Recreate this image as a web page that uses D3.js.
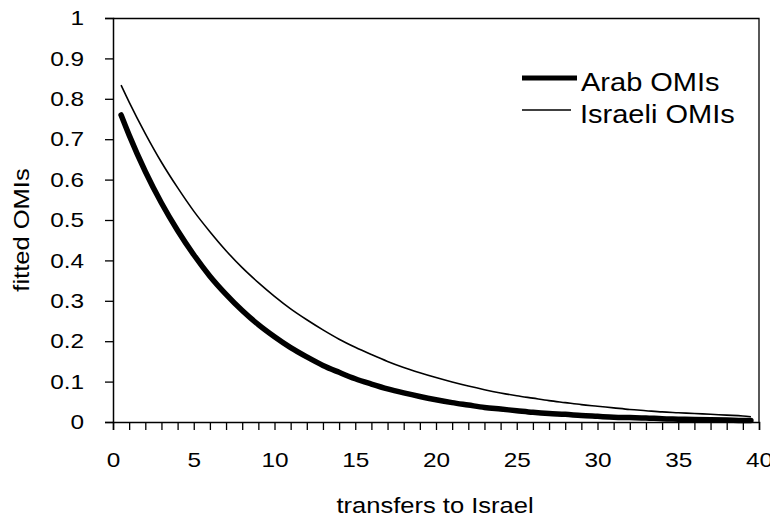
<!DOCTYPE html>
<html>
<head>
<meta charset="utf-8">
<script src="https://cdn.jsdelivr.net/npm/d3@7"></script>
<style>
  body { margin: 0; background: #fff; }
  text { font-family: "Liberation Sans", Arial, sans-serif; fill: #000; }
</style>
</head>
<body>
<div id="chart"></div>
<script>
// values
const transfers = [0.5, 1, 2, 3, 4, 5, 6, 7, 8, 9, 10, 11, 12, 13, 14, 15, 16, 17, 18, 19, 20,
  21, 22, 23, 24, 25, 26, 27, 28, 29, 30, 31, 32, 33, 34, 35, 36, 37, 38, 39, 39.5];
const arabOMIs = [0.760, 0.710, 0.620, 0.542, 0.474, 0.414, 0.361, 0.316, 0.276, 0.241, 0.211,
  0.184, 0.161, 0.140, 0.123, 0.107, 0.094, 0.082, 0.072, 0.063, 0.055,
  0.048, 0.042, 0.036, 0.032, 0.028, 0.024, 0.021, 0.019, 0.016, 0.014,
  0.012, 0.011, 0.010, 0.008, 0.007, 0.006, 0.0055, 0.005, 0.004, 0.004];
const israeliOMIs = [0.834, 0.792, 0.714, 0.643, 0.580, 0.522, 0.471, 0.424, 0.382, 0.345, 0.311,
  0.280, 0.253, 0.228, 0.205, 0.185, 0.167, 0.150, 0.135, 0.122, 0.110,
  0.099, 0.089, 0.080, 0.072, 0.065, 0.059, 0.053, 0.048, 0.043, 0.039,
  0.035, 0.031, 0.028, 0.025, 0.023, 0.021, 0.019, 0.017, 0.015, 0.013];
const xTickLabels = [0, 5, 10, 15, 20, 25, 30, 35, 40];
const yTickLabels = [0, 0.1, 0.2, 0.3, 0.4, 0.5, 0.6, 0.7, 0.8, 0.9, 1];
const seriesNames = ["Arab OMIs", "Israeli OMIs"];

const svg = d3
  .select("#chart")
  .append("svg")
  .attr("height", 518)
  .attr("width", 770);

const margin = { top: 18, bottom: 96, left: 113, right: 11 };
const width = +svg.attr("width") - margin.left - margin.right;
const height = +svg.attr("height") - margin.top - margin.bottom;
const chart = svg.append("g").attr("transform", `translate(${margin.left},${margin.top})`);

const xScale = d3.scaleLinear().domain([0, 40]).range([0, width]);
const yScale = d3.scaleLinear().domain([0, 1]).range([height, 0]);

// frame (top and right)
chart.append("path")
  .attr("d", `M0,0.5H${width}V${height}`)
  .attr("fill", "none")
  .attr("stroke", "#000")
  .attr("stroke-width", 1.3);

// x axis: ticks every 1, labels every 5
const xAxis = chart.append("g")
  .attr("class", "x-axis")
  .attr("transform", `translate(0,${height})`)
  .call(d3.axisBottom(xScale)
    .tickValues(d3.range(0, 41))
    .tickSize(8)
    .tickFormat(d => xTickLabels.includes(d) ? d : ""));

const yAxis = chart.append("g")
  .attr("class", "y-axis")
  .call(d3.axisLeft(yScale)
    .tickValues(yTickLabels)
    .tickSize(8)
    .tickPadding(21)
    .tickFormat(d => d3.format("")(+d.toFixed(1))));

[xAxis, yAxis].forEach(a => {
  a.select(".domain").attr("stroke-width", 1.5);
  a.selectAll(".tick line").attr("stroke-width", 1.3);
  a.selectAll("text").style("font-size", "21px");
});
xAxis.selectAll("text").attr("y", 45).attr("dy", null);

const line = vals => d3.line()
  .x((d, i) => xScale(transfers[i]))
  .y(d => yScale(d))
  .curve(d3.curveMonotoneX)(vals);

chart.append("path")
  .attr("d", line(israeliOMIs))
  .attr("fill", "none")
  .attr("stroke", "#000")
  .attr("stroke-width", 1.6);

chart.append("path")
  .attr("d", line(arabOMIs))
  .attr("fill", "none")
  .attr("stroke", "#000")
  .attr("stroke-width", 5.5)
  .attr("stroke-linecap", "round");

// legend
const legend = svg.append("g").attr("transform", "translate(522,78)");
seriesNames.forEach((name, i) => {
  const g = legend.append("g").attr("transform", `translate(0,${i * 32})`);
  g.append("line")
    .attr("x1", 0).attr("x2", i === 0 ? 55 : 49)
    .attr("stroke", "#000")
    .attr("stroke-width", i === 0 ? 5 : 1.3);
  g.append("text")
    .attr("x", i === 0 ? 59 : 58)
    .attr("y", 13)
    .style("font-size", "25px")
    .text(name);
});

// axis titles
svg.append("text")
  .attr("x", 435)
  .attr("y", 513)
  .attr("text-anchor", "middle")
  .style("font-size", "22px")
  .text("transfers to Israel");

svg.append("text")
  .attr("transform", `translate(29,230) rotate(-90)`)
  .attr("text-anchor", "middle")
  .style("font-size", "22px")
  .text("fitted OMIs");

// the scan is a little wider than plain Arial: stretch text sideways
svg.selectAll("text").each(function () {
  const w = this.getComputedTextLength();
  if (w > 0) d3.select(this).attr("textLength", w * 1.16).attr("lengthAdjust", "spacingAndGlyphs");
});
</script>
</body>
</html>
